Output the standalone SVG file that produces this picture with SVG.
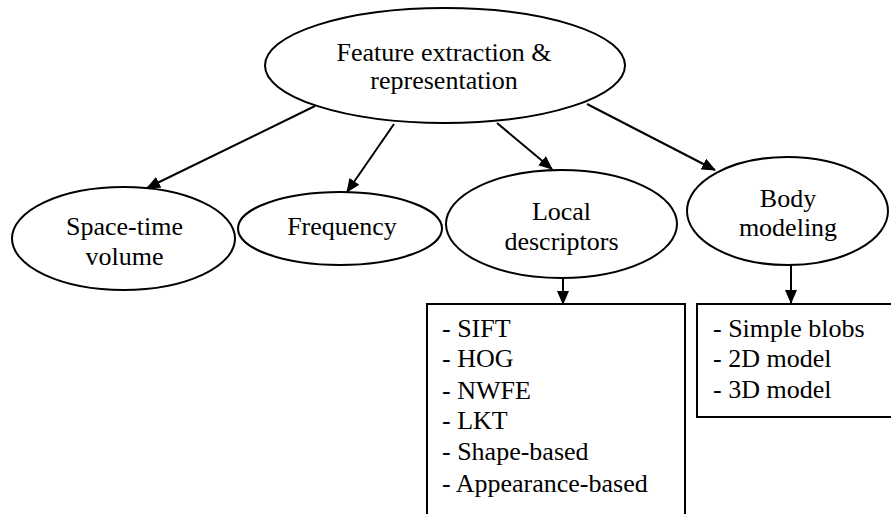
<svg xmlns="http://www.w3.org/2000/svg" width="891" height="514" viewBox="0 0 891 514">
<style>
.n{fill:#fff;stroke:#000;stroke-width:2}
.t{font-family:"Times New Roman","Liberation Serif",Tinos,"Noto Serif","DejaVu Serif",serif;font-size:26px;fill:#000}
.c{text-anchor:middle}
.e{stroke:#000;stroke-width:2;fill:none;marker-end:url(#ah)}
</style>
<defs>
<marker id="ah" markerUnits="userSpaceOnUse" markerWidth="14" markerHeight="12" refX="13" refY="6" orient="auto">
<path d="M0,0 L14,6 L0,12 Z" fill="#000"/>
</marker>
</defs>
<rect width="891" height="514" fill="#fff"/>
<g id="connectors">
<line class="e" x1="315" y1="106" x2="147" y2="188"/>
<line class="e" x1="394" y1="124" x2="347" y2="192"/>
<line class="e" x1="497" y1="123" x2="552" y2="169"/>
<line class="e" x1="587" y1="104" x2="715" y2="170"/>
<line class="e" x1="563" y1="278" x2="563" y2="304"/>
<line class="e" x1="791" y1="265" x2="791" y2="303"/>
</g>
<g id="root">
<ellipse class="n" cx="445" cy="65.5" rx="180" ry="57.5"/>
<text class="t c" x="444" y="61">Feature extraction &amp;</text>
<text class="t c" x="444" y="89">representation</text>
</g>
<g id="spacetime">
<ellipse class="n" cx="123.5" cy="238.5" rx="111.5" ry="51.5"/>
<text class="t c" x="124.5" y="235">Space-time</text>
<text class="t c" x="124.5" y="265">volume</text>
</g>
<g id="frequency">
<ellipse class="n" cx="340" cy="228.5" rx="102" ry="36.5"/>
<text class="t c" x="342" y="235">Frequency</text>
</g>
<g id="local">
<ellipse class="n" cx="561.5" cy="224" rx="115.5" ry="54"/>
<text class="t c" x="561.5" y="220">Local</text>
<text class="t c" x="561.5" y="250">descriptors</text>
</g>
<g id="body">
<ellipse class="n" cx="787.5" cy="211" rx="100.5" ry="54"/>
<text class="t c" x="788" y="207">Body</text>
<text class="t c" x="788" y="236">modeling</text>
</g>
<g id="localList">
<rect class="n" x="427" y="304" width="258" height="220"/>
<text class="t" x="442" y="337">- SIFT</text>
<text class="t" x="442" y="367">- HOG</text>
<text class="t" x="442" y="399">- NWFE</text>
<text class="t" x="442" y="429">- LKT</text>
<text class="t" x="442" y="460">- Shape-based</text>
<text class="t" x="442" y="492">- Appearance-based</text>
</g>
<g id="bodyList">
<rect class="n" x="697" y="304" width="200" height="113"/>
<text class="t" x="713" y="337">- Simple blobs</text>
<text class="t" x="713" y="367">- 2D model</text>
<text class="t" x="713" y="398">- 3D model</text>
</g>
</svg>
